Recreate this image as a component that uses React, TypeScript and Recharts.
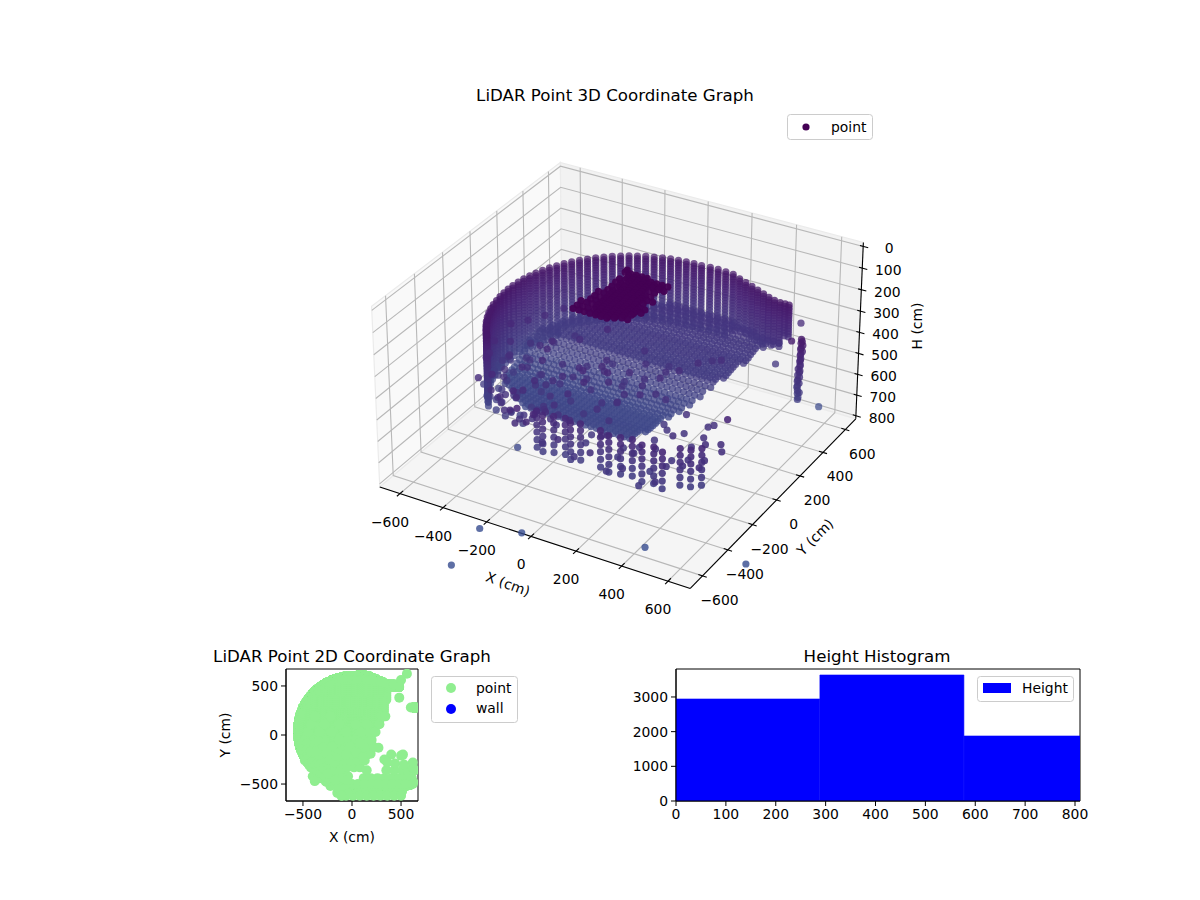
import { Bar, BarChart, ReferenceArea, Scatter, ScatterChart, XAxis, YAxis } from "recharts";

const FONT = "'DejaVu Sans', sans-serif";

// rim of the scanned wall, one entry per column of returns
const wallX = [-431, -451, -470, -487, -502, -515, -526, -535, -541, -546, -549, -550, -549, -545, -540, -532, -523, -511, -498, -482, -465, -446, -425, -403, -379, -354, -327, -299, -270, -240, -209, -177, -144, -111, -78, -44, -10, 25, 62, 98, 134, 170, 210, 246, 282, 316, 350, 382, 412, 440, 462, 480];
const wallY = [-305, -277, -248, -219, -188, -156, -124, -91, -57, -23, 11, 45, 79, 113, 147, 180, 213, 245, 277, 307, 337, 365, 392, 418, 443, 466, 487, 507, 525, 541, 555, 568, 578, 587, 593, 597, 600, 600, 606, 606, 604, 600, 580, 565, 550, 535, 520, 505, 495, 490, 490, 490];
const wallDepth = [25, 25, 25, 25, 25, 25, 25, 25, 25, 25, 25, 25, 25, 25, 25, 25, 25, 25, 25, 25, 23, 23, 23, 23, 23, 23, 23, 23, 23, 23, 23, 23, 23, 23, 23, 23, 23, 23, 23, 23, 23, 21, 19, 19, 19, 19, 19, 17, 17, 17, 13, 13];
const wallLevels = [231, 243, 254, 266, 278, 290, 302, 314, 327, 340, 353, 366, 380, 394, 408, 422, 437, 452, 467, 482, 498, 514, 530, 546, 563];

// sampled X positions shared by the floor and the dark cluster rows
const sampleX = [-550, -525, -500, -475, -450, -425, -400, -375, -350, -325, -300, -275, -250, -225, -200, -175, -150, -125, -100, -75, -50, -25, 0, 25, 50, 75, 100, 125, 150, 175, 200, 225, 250, 275, 300, 325, 350, 375, 400, 425, 450];

const floorY = [-200, -180, -160, -140, -120, -100, -80, -60, -40, -20, 0, 20, 40, 60, 80, 100, 120, 140, 160, 180, 200, 220, 240, 260, 280, 300, 320, 340, 360, 380, 400, 420, 440, 460, 480, 500, 520, 540, 560];
const floorH = [590, 590, 590, 592, 595, 596, 598, 598, 598, 598, 598, 594, 590, 582, 575, 565, 555, 540, 525, 510, 495, 492, 490, 488, 485, 482, 480, 478, 475, 473, 471, 466, 462, 458, 455, 448, 440, 435, 430];
const floorFrom = [-330, -360, -390, -420, -445, -465, -485, -500, -515, -530, -540, -545, -545, -542, -540, -538, -535, -530, -525, -518, -510, -500, -490, -480, -470, -458, -445, -430, -415, -398, -380, -360, -340, -315, -290, -245, -200, -150, -100];
const floorTo = [150, 158, 165, 170, 175, 180, 185, 188, 190, 192, 195, 202, 210, 225, 240, 255, 270, 282, 295, 305, 315, 322, 330, 335, 340, 342, 345, 348, 350, 350, 350, 358, 365, 372, 380, 410, 440, 320, 200];

const clusterY = [170, 155, 140, 125, 110, 95, 80, 65, 50, 35, 20, 5, -10, -25, -40, -55, -70, -85, -100, -115, -130, -145, -160];
const clusterH = [70, 72, 75, 78, 80, 80, 80, 82, 85, 85, 85, 85, 85, 88, 90, 90, 90, 90, 90, 92, 95, 95, 95];
const clusterFrom = [-95, -92, -70, -60, -85, -40, -85, -55, -75, -40, -90, -50, -100, -60, -110, -70, -115, -60, -125, -50, -130, -40, -135];
const clusterTo = [-75, 40, 147, 100, 130, 60, 110, 70, 100, 85, 125, 80, 115, 90, 135, 100, 125, 110, 120, 90, 100, 60, 40];

// columns hanging in front of the bowl
const frontX = [-50, -15, 25, 70, 105, 140, 230, 275, 320, 365, 415, 460, 505, 550, 590, 620];
const frontY = [-560, -575, -560, -550, -570, -555, -560, -575, -565, -555, -570, -560, -575, -520, -510, -480];
const frontLevels = [330, 360, 392, 425, 460, 495];

// loose returns over the bowl
const scatterX = [-260, -190, -120, -60, -350, -290, -210, -150, -70, -40, -420, -340, -280, -200, -130, -50, 20, 80, -450, -380, -300, -240, -160, -80, -20, 60, 130, -470, -400, -320, -250, -170, -110, -30, 50, 120, 190, -440, -350, -270, -200, -90, -10, 70, 160, 220, -480, -390, -290, -130, -40, 40, 130, 200, -450, -330, -210, -60, 90, 180, 240, -420, -280, -130, 40, 150, 280, -380, -220, 300, 340, -400, -330, -300, -220, -150, -100, 120, 190, 260, 330, 400, 470, 540, 610, 150, 350, 430, 510, 570, 640, 400, 500, 270, 330, -60, 10, 80, 150, 220, 290, 360, 430, 500, 0, 60, 130, 200, 270, 340, 410, 480, 550, 620, 360, 440, 530, 620, -270, -210, -140, -70, -40, -110, -430, -390, -350, -500, -450, -410, -510, -460, -480, -440, -400, -360, -320, -280, -240, -200, -170, -450, -410, -370, -330, -290, -250, -210, -170, -130, -90, -50, -460, -420, -380, -340, -300, -260, -220, -180, -140, -100, -60, -20, 40, 80, 110];
const scatterY = [-480, -480, -480, -480, -400, -400, -400, -400, -400, -420, -330, -330, -330, -330, -330, -330, -330, -330, -260, -260, -260, -260, -260, -260, -260, -260, -260, -190, -190, -190, -190, -190, -190, -190, -190, -190, -190, -120, -120, -120, -120, -120, -120, -120, -120, -120, -50, -50, -50, -50, -50, -50, -50, -50, 30, 30, 30, 30, 30, 30, 30, 110, 110, 110, 110, 110, 110, 190, 190, 190, 190, -420, -440, -440, -520, -590, -620, -440, -440, -440, -440, -440, -440, -440, -440, -360, -360, -360, -360, -360, -360, -200, -210, -130, -250, -620, -620, -620, -620, -620, -620, -620, -620, -620, -500, -500, -500, -500, -500, -500, -500, -500, -500, -500, -280, -290, -300, -330, -470, -470, -540, -540, -600, -620, -230, -230, -230, -150, -150, -150, -90, -90, -260, -300, -340, -360, -380, -420, -440, -420, -460, -200, -280, -300, -300, -340, -360, -340, -360, -380, -440, -460, -150, -170, -100, -60, -130, -180, -250, -280, -220, -160, -200, -120, -180, -80, -230];
const scatterH = [400, 355, 430, 380, 340, 415, 370, 450, 395, 420, 320, 385, 440, 360, 410, 375, 445, 405, 345, 400, 365, 430, 385, 455, 350, 420, 395, 330, 375, 410, 355, 440, 390, 425, 365, 400, 380, 360, 420, 345, 395, 430, 370, 415, 385, 405, 325, 390, 350, 420, 365, 440, 400, 375, 340, 410, 360, 430, 385, 395, 370, 350, 405, 330, 380, 420, 365, 345, 310, 390, 375, 360, 385, 410, 400, 340, 300, 450, 430, 465, 440, 425, 455, 430, 410, 420, 445, 400, 425, 395, 405, 400, 420, 410, 440, 350, 420, 385, 440, 400, 460, 425, 480, 440, 410, 370, 450, 395, 470, 430, 490, 445, 420, 405, 440, 425, 410, 395, 380, 335, 405, 360, 320, 370, 520, 470, 540, 500, 545, 480, 520, 470, 500, 520, 490, 530, 470, 500, 460, 510, 440, 480, 540, 470, 560, 450, 520, 480, 470, 430, 400, 420, 440, 400, 430, 380, 470, 430, 460, 400, 380, 360, 340, 350, 330, 370, 420];

const lobeX = [640, 646, 642, 648, 644, 640, 646, 642, 638, 644, 640, 636, 642, 638, 634, 640, 636, 632, 638, 634, 630, 636, 632, 628, 634, 640, 630, 636, 632];
const lobeY = [285, 280, 278, 282, 276, 280, 284, 278, 282, 276, 280, 284, 278, 282, 276, 280, 284, 278, 282, 276, 280, 284, 278, 282, 276, 280, 284, 278, 282];
const lobeH = [238, 244, 252, 262, 272, 282, 292, 302, 312, 322, 332, 342, 352, 362, 372, 382, 392, 402, 412, 422, 432, 442, 452, 462, 472, 482, 492, 505, 518];

const strayX = [-574, -380, -372, 43, 388, 560, 520, 620, 600, 482, -243, 500];
const strayY = [-390, -470, -171, 114, 348, 625, -200, -280, 280, 381, -394, 560];
const strayH = [1335, 1040, 1235, 1335, 1440, 760, 412, 310, 255, 450, 650, 345];

const axisTicks3d = [-600, -400, -200, 0, 200, 400, 600];
const heightTicks3d = [0, 100, 200, 300, 400, 500, 600, 700, 800];
const ticks2d = [-500, 0, 500];

const histMid = [144, 433, 722];
const histCount = [2942, 3634, 1875];
const histXTicks = [0, 100, 200, 300, 400, 500, 600, 700, 800];
const histYTicks = [0, 1000, 2000, 3000];

const colorHeights = [100, 300, 600, 1000];
const colorValues = [[68, 1, 84], [72, 37, 118], [63, 72, 137], [54, 75, 142]];

// view of the 3D box, elev 30 / azim -60
const LIM = 695;
const H_TOP = -18;
const H_BOT = 815;
const HALF_XY = 0.571;
const HALF_Z = 0.326;
const PX_X = 3100;
const PX_Y = 3160;

function project(X: number, Y: number, H: number) {
  const dx = (X / LIM) * HALF_XY;
  const dy = (Y / LIM) * HALF_XY;
  const dz = HALF_Z * (1 - (2 * (H - H_TOP)) / (H_BOT - H_TOP));
  const xv = 0.866 * dx + 0.5 * dy;
  const yv = -0.25 * dx + 0.433 * dy + 0.866 * dz;
  const zv = 0.433 * dx - 0.75 * dy + 0.5 * dz;
  return { x: xv / (10 - zv), y: yv / (10 - zv), depth: zv };
}

function colorOf(H: number) {
  let i = 0;
  while (i < colorHeights.length - 2 && H > colorHeights[i + 1]) i++;
  const t = Math.min(1, Math.max(0, (H - colorHeights[i]) / (colorHeights[i + 1] - colorHeights[i])));
  const c = colorValues[i].map((v, k) => Math.round(v + (colorValues[i + 1][k] - v) * t));
  return `rgb(${c[0]},${c[1]},${c[2]})`;
}

type Pt = { X: number; Y: number; H: number };
// the bowl and its wall, then everything that sits on top of it
const shell: Pt[] = [];
wallX.forEach((X, i) => wallLevels.slice(0, wallDepth[i]).forEach((H) => shell.push({ X, Y: wallY[i], H })));
floorY.forEach((Y, i) => sampleX.filter((X) => X >= floorFrom[i] && X <= floorTo[i]).forEach((X) => shell.push({ X, Y, H: floorH[i] })));
const loose: Pt[] = [];
clusterY.forEach((Y, i) => sampleX.filter((X) => X >= clusterFrom[i] && X <= clusterTo[i]).forEach((X) => loose.push({ X, Y, H: clusterH[i] })));
frontX.forEach((X, i) => frontLevels.forEach((H) => loose.push({ X, Y: frontY[i], H })));
scatterX.forEach((X, i) => loose.push({ X, Y: scatterY[i], H: scatterH[i] }));
lobeX.forEach((X, i) => loose.push({ X, Y: lobeY[i], H: lobeH[i] }));
strayX.forEach((X, i) => loose.push({ X, Y: strayY[i], H: strayH[i] }));

const to3d = (pts: Pt[]) =>
  pts
    .map((p) => {
      const v = project(p.X, p.Y, p.H);
      const shaded = Math.min(0.92, Math.max(0.65, 0.65 + (0.27 * (v.depth + 0.6)) / 1.2));
      const alpha = p.H > 800 ? 0.8 : p.H < 150 ? 0.95 : shaded;
      return { x: v.x, y: v.y, depth: v.depth, color: colorOf(p.H), alpha };
    })
    .sort((a, b) => a.depth - b.depth);
const shell3d = to3d(shell);
const loose3d = to3d(loose);
// the deepest strays fall outside the plan view's footprint
const cloud2d = [...shell, ...loose].filter((p) => p.H < 1250).map((p) => ({ x: p.X, y: p.Y }));

const seg = (...pts: [number, number, number][]) => pts.map(([X, Y, H]) => project(X, Y, H));

const leftWall = seg([-LIM, -LIM, H_BOT], [-LIM, LIM, H_BOT], [-LIM, LIM, H_TOP], [-LIM, -LIM, H_TOP]);
const rearWall = seg([-LIM, LIM, H_BOT], [LIM, LIM, H_BOT], [LIM, LIM, H_TOP], [-LIM, LIM, H_TOP]);
const floorPane = seg([-LIM, -LIM, H_BOT], [LIM, -LIM, H_BOT], [LIM, LIM, H_BOT], [-LIM, LIM, H_BOT]);

const gridLines = [
  ...axisTicks3d.map((t) => seg([t, -LIM, H_BOT], [t, LIM, H_BOT], [t, LIM, H_TOP])),
  ...axisTicks3d.map((t) => seg([LIM, t, H_BOT], [-LIM, t, H_BOT], [-LIM, t, H_TOP])),
  ...heightTicks3d.map((t) => seg([-LIM, -LIM, t], [-LIM, LIM, t], [LIM, LIM, t])),
];
const axisLines = [
  seg([-LIM, -LIM, H_BOT], [LIM, -LIM, H_BOT]),
  seg([LIM, -LIM, H_BOT], [LIM, LIM, H_BOT]),
  seg([LIM, LIM, H_BOT], [LIM, LIM, H_TOP]),
];
const tickMarks = [
  ...axisTicks3d.map((t) => seg([t, -LIM + 22, H_BOT], [t, -LIM - 22, H_BOT])),
  ...axisTicks3d.map((t) => seg([LIM - 18, t, H_BOT], [LIM + 18, t, H_BOT])),
  ...heightTicks3d.map((t) => seg([LIM - 14, LIM, t], [LIM + 22, LIM, t])),
];

const minus = (v: number) => String(v).replace("-", "\u2212");
const xLabels = axisTicks3d.map((t) => ({ ...project(t, -LIM, H_BOT), text: minus(t), dx: -10, dy: 28 }));
const yLabels = axisTicks3d.map((t) => ({ ...project(LIM, t, H_BOT), text: minus(t), dx: 17, dy: 24 }));
const hLabels = heightTicks3d.map((t) => ({ ...project(LIM, LIM, t), text: minus(t), dx: 26, dy: 2 }));
const tickLabels = [...xLabels, ...yLabels, ...hLabels];

// plot window of the 3D chart, in projected units
const W3D = 1200;
const H3D = 640;
const CX = 622;
const CY = 364.5;
const domX: [number, number] = [-CX / PX_X, (W3D - CX) / PX_X];
const domY: [number, number] = [(CY - H3D) / PX_Y, CY / PX_Y];

const noDot = () => <g />;
const pane = (fill: string) => (p: any) => (
  <polygon points={p.points.map((q: any) => `${q.x},${q.y}`).join(" ")} fill={fill} stroke="#ebebeb" strokeWidth={1.2} />
);
const dot3d = (p: any) => <circle cx={p.cx} cy={p.cy} r={3.6} fill={p.payload.color} fillOpacity={p.payload.alpha} />;

const histData = histMid.map((mid, i) => ({ mid, count: histCount[i] }));
const tickStyle = { fill: "#000", fontSize: 13.9, fontFamily: FONT };
const lineStyle = { stroke: "#000", strokeWidth: 1 };

function Text2({ x, y, size = 13.9, rotate, anchor = "middle", children }: any) {
  return (
    <text
      x={x}
      y={y}
      fontSize={size}
      fontFamily={FONT}
      fill="#000"
      textAnchor={anchor}
      dominantBaseline="central"
      transform={rotate ? `rotate(${rotate} ${x} ${y})` : undefined}
    >
      {children}
    </text>
  );
}

export default function App() {
  return (
    <div style={{ position: "absolute", left: 0, top: 0, width: 1200, height: 900, background: "#fff", overflow: "hidden" }}>
      <div style={{ position: "absolute", left: 0, top: 0 }}>
        <ScatterChart width={W3D} height={H3D} margin={{ top: 0, right: 0, bottom: 0, left: 0 }}>
          <XAxis type="number" dataKey="x" domain={domX} hide allowDataOverflow />
          <YAxis type="number" dataKey="y" domain={domY} hide allowDataOverflow />
          <Scatter data={leftWall} line={pane("#f9f9f9")} shape={noDot} isAnimationActive={false} />
          <Scatter data={rearWall} line={pane("#f2f2f2")} shape={noDot} isAnimationActive={false} />
          <Scatter data={floorPane} line={pane("#f5f5f5")} shape={noDot} isAnimationActive={false} />
          {gridLines.map((g, i) => (
            <Scatter key={`g${i}`} data={g} line={{ stroke: "#b8b8b8", strokeWidth: 1.1 }} shape={noDot} isAnimationActive={false} />
          ))}
          {axisLines.map((g, i) => (
            <Scatter key={`a${i}`} data={g} line={{ stroke: "#000", strokeWidth: 1.1 }} shape={noDot} isAnimationActive={false} />
          ))}
          {tickMarks.map((g, i) => (
            <Scatter key={`t${i}`} data={g} line={{ stroke: "#000", strokeWidth: 1.1 }} shape={noDot} isAnimationActive={false} />
          ))}
          <Scatter name="point" data={shell3d} isAnimationActive={false} shape={dot3d} />
          <Scatter name="point" data={loose3d} isAnimationActive={false} shape={dot3d} />
          <Scatter
            data={tickLabels}
            isAnimationActive={false}
            shape={(p: any) => (
              <Text2 x={p.cx + p.payload.dx} y={p.cy + p.payload.dy}>
                {p.payload.text}
              </Text2>
            )}
          />
        </ScatterChart>
      </div>

      <div style={{ position: "absolute", left: 200, top: 640 }}>
        <ScatterChart width={300} height={220} margin={{ top: 29, right: 82, bottom: 29, left: 26 }}>
          <XAxis type="number" dataKey="x" domain={[-673, 673]} ticks={ticks2d} interval={0} height={30} tickSize={5} tickMargin={3} tick={tickStyle} axisLine={lineStyle} tickLine={lineStyle} tickFormatter={minus} allowDataOverflow />
          <YAxis type="number" dataKey="y" domain={[-673, 673]} ticks={ticks2d} interval={0} width={60} tickSize={5} tickMargin={3} tick={tickStyle} axisLine={lineStyle} tickLine={lineStyle} tickFormatter={minus} allowDataOverflow />
          <Scatter name="point" data={cloud2d} isAnimationActive={false} shape={(p: any) => <circle cx={p.cx} cy={p.cy} r={5} fill="#90ee90" />} />
          <Scatter name="wall" data={[]} fill="#0000ff" isAnimationActive={false} />
          <ReferenceArea x1={-673} x2={673} y1={-673} y2={673} fill="none" stroke="#000" strokeWidth={1} ifOverflow="visible" />
        </ScatterChart>
      </div>

      <div style={{ position: "absolute", left: 620, top: 640 }}>
        <BarChart width={480} height={200} data={histData} margin={{ top: 29, right: 20, bottom: 9, left: 10 }}>
          <XAxis type="number" dataKey="mid" domain={[0, 810]} ticks={histXTicks} interval={0} height={30} tickSize={5} tickMargin={3} tick={tickStyle} axisLine={lineStyle} tickLine={lineStyle} allowDataOverflow />
          <YAxis type="number" domain={[0, 3807]} ticks={histYTicks} interval={0} width={46} tickSize={5} tickMargin={3} tick={tickStyle} axisLine={lineStyle} tickLine={lineStyle} allowDataOverflow />
          <Bar dataKey="count" name="Height" fill="#0000ff" stroke="#0000ff" strokeWidth={0.6} barSize={144} isAnimationActive={false} />
          <ReferenceArea x1={0} x2={810} y1={0} y2={3807} fill="none" stroke="#000" strokeWidth={1} ifOverflow="visible" />
        </BarChart>
      </div>

      <svg width={1200} height={900} style={{ position: "absolute", left: 0, top: 0, pointerEvents: "none" }}>
        <Text2 x={615} y={95} size={16.67}>LiDAR Point 3D Coordinate Graph</Text2>
        <Text2 x={508} y={584} rotate={20}>X (cm)</Text2>
        <Text2 x={815} y={537} rotate={-45}>Y (cm)</Text2>
        <Text2 x={917} y={326} rotate={-90}>H (cm)</Text2>
        <rect x={787.5} y={114.5} width={85} height={25} rx={3} fill="#fff" stroke="#ccc" />
        <circle cx={806} cy={127} r={3.6} fill="#440154" />
        <Text2 x={831} y={127} anchor="start">point</Text2>

        <Text2 x={352} y={656} size={16.67}>LiDAR Point 2D Coordinate Graph</Text2>
        <Text2 x={352} y={837}>X (cm)</Text2>
        <Text2 x={225} y={735} rotate={-90}>Y (cm)</Text2>
        <rect x={431.5} y={676.5} width={86} height={46} rx={3} fill="#fff" stroke="#ccc" />
        <circle cx={451} cy={688} r={5} fill="#90ee90" />
        <Text2 x={476} y={688} anchor="start">point</Text2>
        <circle cx={451} cy={709} r={5} fill="#0000ff" />
        <Text2 x={476} y={708} anchor="start">wall</Text2>

        <Text2 x={877} y={656} size={16.67}>Height Histogram</Text2>
        <rect x={977.5} y={676.5} width={96} height={25} rx={3} fill="#fff" stroke="#ccc" />
        <rect x={983} y={683} width={28} height={10} fill="#0000ff" />
        <Text2 x={1022} y={688} anchor="start">Height</Text2>
      </svg>
    </div>
  );
}
